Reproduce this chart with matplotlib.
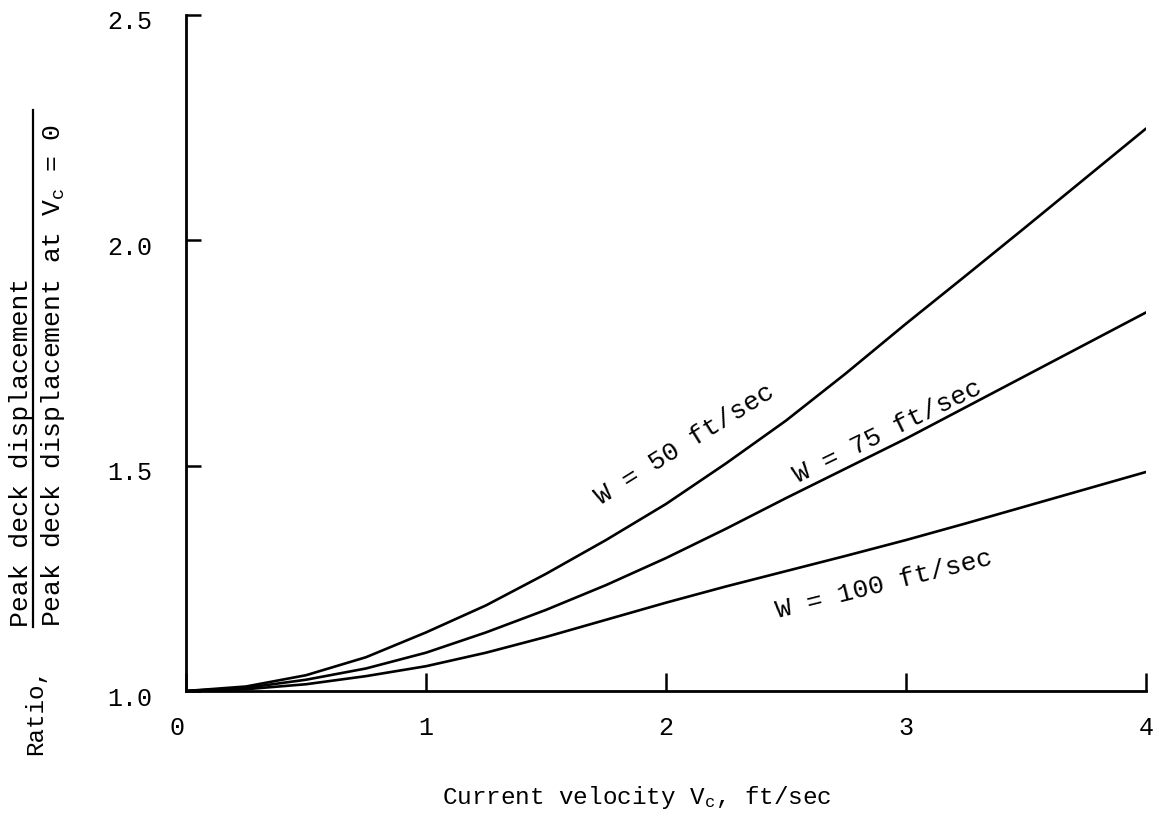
import matplotlib
matplotlib.use("Agg")
import matplotlib.pyplot as plt
from matplotlib.lines import Line2D
from matplotlib.transforms import ScaledTranslation

plt.rcParams['font.family'] = ['Liberation Mono', 'DejaVu Sans Mono']
plt.rcParams['mathtext.default'] = 'regular'

# Current velocity, ft/sec
vc = [0.0, 0.25, 0.5, 0.75, 1.0, 1.25, 1.5, 1.75, 2.0, 2.25, 2.5, 2.75, 3.0, 3.25, 3.5, 3.75, 4.0]

# Ratio of peak deck displacement to the value at Vc = 0
ratio_w50 = [1.0, 1.01, 1.035, 1.075, 1.13, 1.19, 1.26, 1.335, 1.415, 1.505, 1.60, 1.705,
             1.815, 1.922, 2.03, 2.139, 2.248]
ratio_w75 = [1.0, 1.007, 1.025, 1.05, 1.085, 1.13, 1.18, 1.235, 1.295, 1.36, 1.428, 1.494,
             1.56, 1.63, 1.70, 1.77, 1.84]
ratio_w100 = [1.0, 1.004, 1.015, 1.033, 1.055, 1.085, 1.12, 1.158, 1.196, 1.232, 1.266, 1.30,
              1.335, 1.372, 1.41, 1.448, 1.486]

series_labels = ["W = 50 ft/sec", "W = 75 ft/sec", "W = 100 ft/sec"]

x_ticks = [0, 1, 2, 3, 4]
y_ticks = [1.0, 1.5, 2.0, 2.5]
y_ticklabels = ["1.0", "1.5", "2.0", "2.5"]

W, H = 1159, 822
fig = plt.figure(figsize=(W / 100, H / 100), dpi=100)
ax = fig.add_axes([186 / W, 1 - 691 / H, (1146 - 186) / W, (691 - 15) / H])

for ys in (ratio_w50, ratio_w75, ratio_w100):
    ax.plot(vc, ys, color='black', lw=1.9, solid_capstyle='round')

ax.set_xlim(0, 4)
ax.set_ylim(1.0, 2.5)
ax.spines['top'].set_visible(False)
ax.spines['right'].set_visible(False)
for s in ('left', 'bottom'):
    ax.spines[s].set_linewidth(2.0)

ax.set_xticks(x_ticks)
ax.set_xticklabels([str(t) for t in x_ticks])
ax.set_yticks(y_ticks)
ax.set_yticklabels(y_ticklabels)
ax.tick_params(axis='both', direction='in', width=1.8, labelsize=18)
ax.tick_params(axis='x', length=13, pad=18)
ax.tick_params(axis='y', length=11, pad=24)

# typewritten labels sit slightly below their ticks
down = ScaledTranslation(0, -5 / 100, fig.dpi_scale_trans)
for lab in ax.get_yticklabels():
    lab.set_transform(lab.get_transform() + down)
left = ScaledTranslation(-9 / 100, 0, fig.dpi_scale_trans)
xl0 = ax.get_xticklabels()[0]
xl0.set_transform(xl0.get_transform() + left)

ax.set_xlabel("Current velocity V$_c$, ft/sec", fontsize=17.5, labelpad=32)
ax.xaxis.label.set_x((637 - 186) / (1146 - 186))

# Curve annotations
ax.text(2.08, 1.548, series_labels[0], fontsize=19, rotation=32, ha='center', va='center')
ax.text(2.925, 1.575, series_labels[1], fontsize=19, rotation=26, ha='center', va='center')
ax.text(2.91, 1.236, series_labels[2], fontsize=19, rotation=14, ha='center', va='center')

# Y-axis label written as a ratio
fig.text(36 / W, 1 - 711 / H, "Ratio,", rotation=90, fontsize=17.5, ha='center', va='center')
fig.text(21 / W, 1 - 627 / H, "Peak deck displacement", rotation=90, fontsize=19,
         ha='center', va='bottom')
fig.text(53 / W, 1 - 627 / H, "Peak deck displacement at V$_c$ = 0", rotation=90, fontsize=19,
         ha='center', va='bottom')
fig.add_artist(Line2D([33 / W, 33 / W], [1 - 627 / H, 1 - 110 / H],
                      transform=fig.transFigure, color='black', lw=1.6))

fig.savefig("out.png", dpi=100, facecolor='white')
